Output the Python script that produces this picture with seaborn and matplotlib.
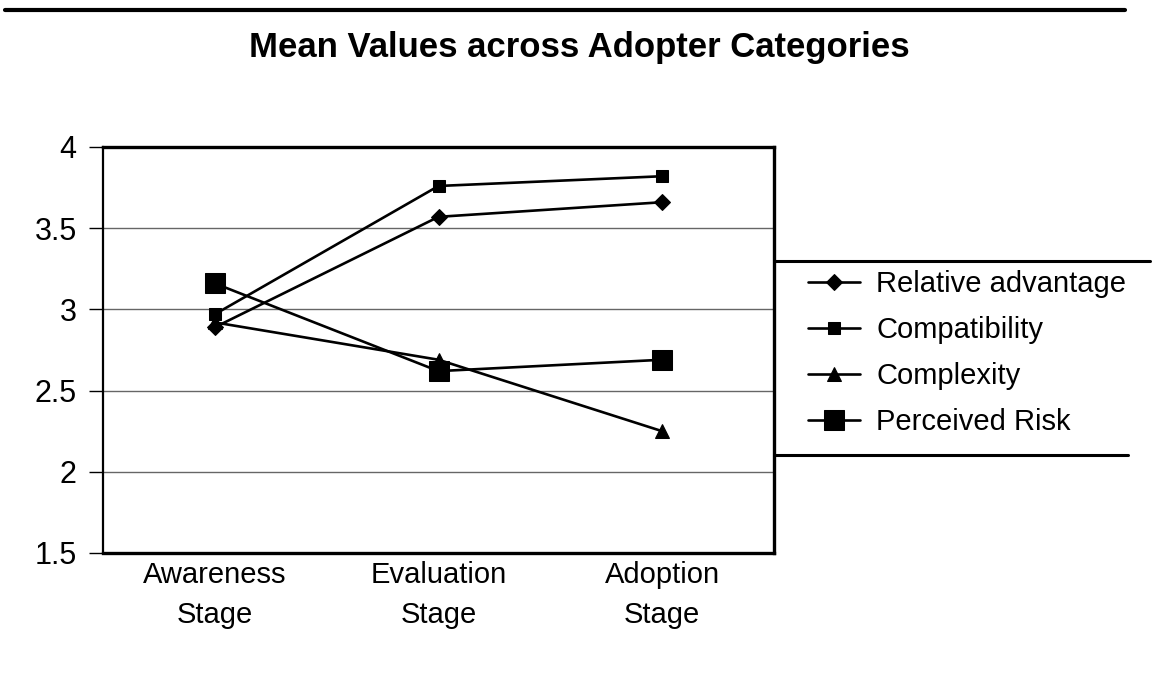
#!/usr/bin/env python3
"""Mean values of adoption attributes across adopter stages (line chart)."""

import matplotlib

matplotlib.use("Agg")

import matplotlib.pyplot as plt
from matplotlib.lines import Line2D
import pandas as pd
import seaborn as sns


STAGES = ["Awareness\nStage", "Evaluation\nStage", "Adoption\nStage"]
RELATIVE_ADVANTAGE = [2.89, 3.57, 3.66]
COMPATIBILITY = [2.97, 3.76, 3.82]
COMPLEXITY = [2.92, 2.69, 2.25]
PERCEIVED_RISK = [3.16, 2.62, 2.69]

SERIES = [
    ("Relative advantage", RELATIVE_ADVANTAGE, "D", 8),
    ("Compatibility", COMPATIBILITY, "s", 8),
    ("Complexity", COMPLEXITY, "^", 10),
    ("Perceived Risk", PERCEIVED_RISK, "s", 15),
]

W, H = 1154, 690


def main() -> None:
    sns.set_theme(style="white")
    plt.rcParams["font.family"] = ["Liberation Sans", "DejaVu Sans"]
    plt.rcParams["text.color"] = "black"
    plt.rcParams["xtick.color"] = "black"
    plt.rcParams["ytick.color"] = "black"

    fig = plt.figure(figsize=(W / 100, H / 100), dpi=100)
    ax = fig.add_axes([103 / W, 1 - 553 / H, (774 - 103) / W, (553 - 147) / H])

    frames = []
    for name, values, _, _ in SERIES:
        frames.append(pd.DataFrame({"stage": range(len(STAGES)), "value": values, "series": name}))
    df = pd.concat(frames, ignore_index=True)

    for name, _, marker, size in SERIES:
        sns.lineplot(
            data=df[df["series"] == name],
            x="stage",
            y="value",
            color="black",
            linewidth=1.9,
            marker=marker,
            markersize=size,
            markeredgecolor="black",
            markerfacecolor="black",
            ax=ax,
            label=name,
        )

    ax.set_xlim(-0.5, 2.5)
    ax.set_ylim(1.5, 4)
    ax.set_yticks([1.5, 2, 2.5, 3, 3.5, 4])
    ax.set_yticklabels(["1.5", "2", "2.5", "3", "3.5", "4"], fontsize=22)
    ax.set_xticks(range(len(STAGES)))
    ax.set_xticklabels(STAGES, fontsize=21, linespacing=1.55)
    ax.set_xticks([0.5, 1.5], minor=True)
    ax.tick_params(axis="x", which="major", length=0, pad=6)
    ax.tick_params(axis="x", which="minor", length=7, width=1, direction="out")
    ax.tick_params(axis="y", length=10, width=1, direction="out", pad=9, left=True)
    ax.set_xlabel("")
    ax.set_ylabel("")

    for y in [2, 2.5, 3, 3.5]:
        ax.axhline(y, color="#666666", linewidth=1, zorder=0)

    for side, lw in [("left", 1.6), ("bottom", 2.4), ("top", 2.4), ("right", 2.4)]:
        ax.spines[side].set_visible(True)
        ax.spines[side].set_color("black")
        ax.spines[side].set_linewidth(lw)

    ax.legend(
        loc="center left",
        bbox_to_anchor=(793 / W, 1 - 353 / H),
        bbox_transform=fig.transFigure,
        frameon=False,
        fontsize=21,
        borderpad=0,
        handlelength=1.8,
        handletextpad=0.55,
        labelspacing=0.62,
    )

    fig.text(579 / W, 1 - 47 / H, "Mean Values across Adopter Categories",
             ha="center", va="center", fontsize=25, fontweight="bold")

    fig.add_artist(Line2D([5 / W, 1125 / W], [1 - 10 / H, 1 - 10 / H], color="black", linewidth=3))
    fig.add_artist(Line2D([774 / W, 1150 / W], [1 - 261 / H, 1 - 261 / H], color="black", linewidth=2.2))
    fig.add_artist(Line2D([774 / W, 1128 / W], [1 - 455 / H, 1 - 455 / H], color="black", linewidth=2.2))

    fig.savefig("out.png", dpi=100)
    plt.close(fig)


if __name__ == "__main__":
    main()
